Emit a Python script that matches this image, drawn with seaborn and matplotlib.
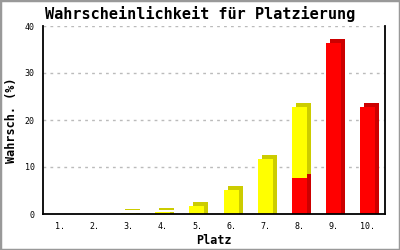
import matplotlib
matplotlib.use("Agg")
import matplotlib.pyplot as plt
import matplotlib.transforms as mtransforms
from matplotlib.patches import Rectangle
import seaborn as sns
import pandas as pd

plaetze = ["1.", "2.", "3.", "4.", "5.", "6.", "7.", "8.", "9.", "10."]
rot = [0, 0, 0, 0, 0, 0, 0, 7.7, 36.3, 22.7]
gelb = [0, 0, 0.3, 0.5, 1.8, 5.2, 11.8, 15.1, 0.1, 0]
gesamt = [r + g for r, g in zip(rot, gelb)]

df = pd.DataFrame({"Platz": plaetze, "rot": rot, "gesamt": gesamt})

sns.set_style("white")
plt.rcParams.update({"text.color": "black", "axes.labelcolor": "black",
                     "xtick.color": "black", "ytick.color": "black"})
mono = ["DejaVu Sans Mono"]

fig = plt.figure(figsize=(4, 2.5), dpi=100)
ax = fig.add_axes([43/400, 1-214/250, (385-43)/400, (214-26)/250])

W = 0.44
dx, dy = 4/100, 4/100
shift_up = mtransforms.ScaledTranslation(dx, dy, fig.dpi_scale_trans)
shift_side = mtransforms.ScaledTranslation(dx, 0, fig.dpi_scale_trans)


def draw(col, color, tr=None):
    n = len(ax.patches)
    sns.barplot(data=df, x="Platz", y=col, order=plaetze, color=color,
                saturation=1, width=W, errorbar=None, ax=ax)
    for p in ax.patches[n:]:
        p.set_linewidth(0)
        if tr is not None:
            p.set_transform(ax.transData + tr)


# depth faces
draw("gesamt", "#CCCC00", shift_up)
draw("gesamt", "#CCCC00", shift_side)
draw("rot", "#CC0000", shift_up)
draw("rot", "#CC0000", shift_side)
# front faces
draw("gesamt", "#FFFF00")
draw("rot", "#FF0000")

ax.set_xlim(-0.5, 9.5)
ax.set_ylim(0, 40)
ax.set_yticks([0, 10, 20, 30, 40])
ax.yaxis.grid(True, color="#BBBBBB", linestyle=(0, (2, 3)), linewidth=1)
ax.set_axisbelow(True)
for s in ["left", "bottom", "right"]:
    ax.spines[s].set_visible(True)
    ax.spines[s].set_color("black")
    ax.spines[s].set_linewidth(1.3)
    ax.spines[s].set_zorder(5)
ax.spines["top"].set_visible(False)
ax.tick_params(axis="y", direction="out", length=4, width=1, pad=2, labelsize=6)
ax.tick_params(axis="x", length=0, pad=6, labelsize=6)
for lab in ax.get_xticklabels() + ax.get_yticklabels():
    lab.set_family(mono)

ax.set_xlabel("Platz", family=mono, fontweight="bold", fontsize=8.5, labelpad=2)
ax.set_ylabel("Wahrsch. (%)", family=mono, fontweight="bold", fontsize=8.5, labelpad=5)
fig.text(0.5, 1-14/250, "Wahrscheinlichkeit für Platzierung", family=mono,
         fontweight="bold", fontsize=11, ha="center", va="center")

fig.patches.append(Rectangle((0, 0), 1, 1, transform=fig.transFigure, fill=False,
                             edgecolor="#999999", linewidth=2.5))

fig.savefig("out.png", dpi=100)
